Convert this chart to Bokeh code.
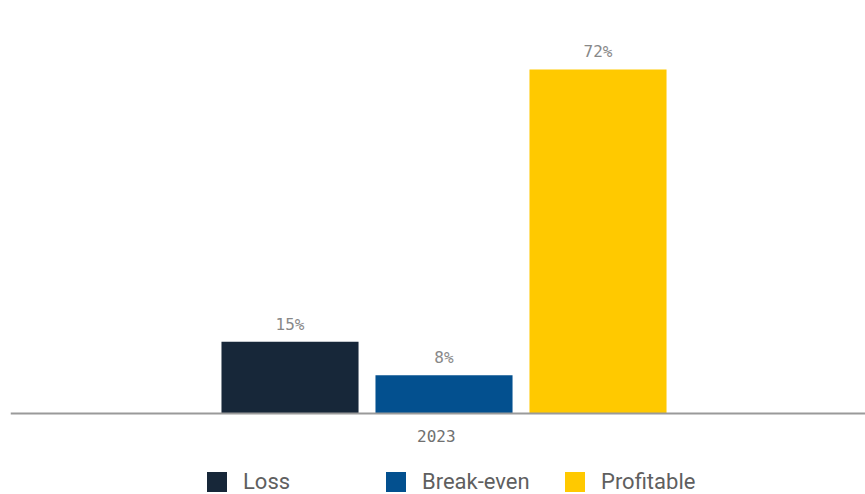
from bokeh.plotting import figure
from bokeh.models import ColumnDataSource, Range1d, FixedTicker, Legend, LegendItem
from bokeh.core.properties import value
from bokeh.embed import file_html
from bokeh.resources import INLINE

categories = ["Loss", "Break-even", "Profitable"]
shares = [15, 8, 72]
colors = ["#172739", "#03508F", "#FFC900"]
year = "2023"

xpos = list(range(len(categories)))
labels = [f"{v}%" for v in shares]

src = ColumnDataSource(dict(x=xpos, top=shares, color=colors, cat=categories, label=labels))

p = figure(width=865, height=494, output_backend="svg", toolbar_location=None,
           x_range=Range1d(-1.815, 3.737), y_range=Range1d(-16.95, 86.44),
           y_axis_location=None,
           min_border_left=10, min_border_right=0, min_border_top=0, min_border_bottom=0)
p.outline_line_color = None
p.xgrid.visible = False
p.ygrid.visible = False
p.background_fill_color = "white"
p.border_fill_color = "white"

r = p.vbar(x="x", top="top", width=0.89, bottom=0, fill_color="color", line_color=None, source=src)

p.text(x="x", y="top", text="label", source=src, y_offset=-8,
       text_align="center", text_baseline="bottom",
       text_font=value("DejaVu Sans Mono"), text_font_size="16px", text_color="#888888")

ax = p.xaxis[0]
ax.fixed_location = 0
ax.ticker = FixedTicker(ticks=[0.95])
ax.major_label_overrides = {0.95: year}
ax.axis_line_color = "#9a9a9a"
ax.axis_line_width = 2
ax.major_tick_line_color = None
ax.minor_tick_line_color = None
ax.major_tick_out = 0
ax.major_tick_in = 0
ax.major_label_standoff = 16
ax.major_label_text_font = "DejaVu Sans Mono"
ax.major_label_text_font_size = "16px"
ax.major_label_text_color = "#707070"

legend = Legend(items=[LegendItem(label=c, renderers=[r], index=i) for i, c in enumerate(categories)],
                orientation="horizontal", location=(194, 0),
                glyph_width=25, glyph_height=25, label_standoff=14, label_width=140,
                spacing=0, padding=0, margin=0, border_line_color=None,
                background_fill_alpha=0,
                label_text_font="Roboto", label_text_font_size="22px", label_text_color="#5f5f5f")
p.add_layout(legend)

open("out.html", "w").write(file_html(p, INLINE))
